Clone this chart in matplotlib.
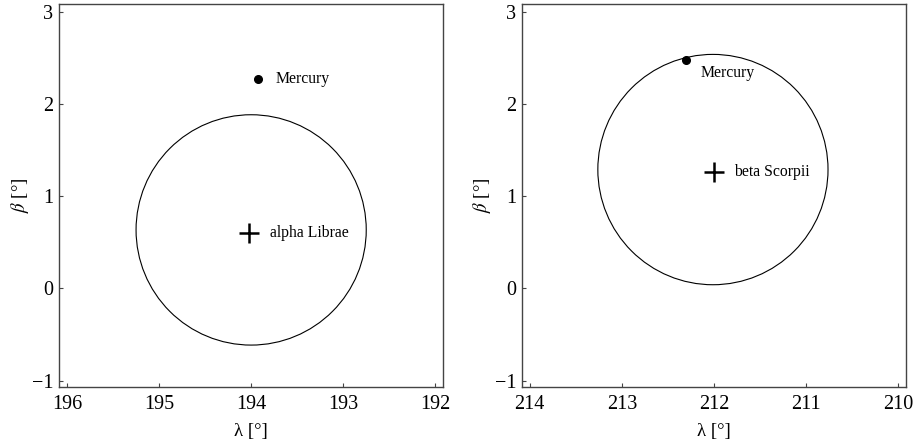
import numpy as np
import matplotlib.pyplot as plt
from matplotlib.patches import Circle

## data
star_names = ['alpha Librae', 'beta Scorpii']
star_lon = [194.02, 212.0]
star_lat = [0.605, 1.26]
circle_lon = [194.0, 212.01]
circle_lat = [0.635, 1.29]
circle_radius = [1.25, 1.25]
mercury_lon = [193.93, 212.30]
mercury_lat = [2.27, 2.48]
xticks = [[196, 195, 194, 193, 192], [214, 213, 212, 211, 210]]
yticks = [-1, 0, 1, 2, 3]

plt.rcParams['font.family'] = ['Liberation Serif', 'DejaVu Serif']
plt.rcParams['mathtext.fontset'] = 'stix'

fig = plt.figure(figsize=(9.15, 4.44), dpi=100)
W, H = 915., 444.
lefts = [59.0, 521.7]
ax_w = 384.3
bottom = 57.0
ax_h = 383.0

for i in range(2):
    ax = fig.add_axes([lefts[i] / W, bottom / H, ax_w / W, ax_h / H])
    # circle
    ax.add_patch(Circle((circle_lon[i], circle_lat[i]), circle_radius[i],
                        fill=False, edgecolor='black', lw=0.8))
    # star
    ax.plot(star_lon[i], star_lat[i], marker='+', color='black', ms=15, mew=1.8)
    ax.text(star_lon[i] - 0.22, star_lat[i], star_names[i], fontsize=11.3,
            va='center', ha='left')
    # mercury
    ax.plot(mercury_lon[i], mercury_lat[i], 'o', color='black', ms=5.5)
    if i == 0:
        ax.text(mercury_lon[i] - 0.2, mercury_lat[i], 'Mercury', fontsize=11.3,
                va='center', ha='left')
    else:
        ax.text(mercury_lon[i] - 0.16, mercury_lat[i] - 0.14, 'Mercury',
                fontsize=11.3, va='center', ha='left')

    c = xticks[i][2]
    ax.set_xlim(c + 2.087, c - 2.087)
    ax.set_ylim(-1.07, 3.087)
    ax.set_xticks(xticks[i])
    ax.set_yticks(yticks)
    ax.set_yticklabels(['\u22121', '0', '1', '2', '3'])
    ax.tick_params(direction='in', length=3, width=0.8, color='#444444',
                   labelsize=14.5, top=False, right=False, pad=4)
    ax.tick_params(axis='x', pad=6)
    for s in ax.spines.values():
        s.set_color('#444444')
        s.set_linewidth(1.0)
    ax.set_xlabel('\u03bb [\u00b0]', fontsize=13.5, labelpad=6)
    ax.set_ylabel('$\\beta$ [\u00b0]', fontsize=13.5, labelpad=1)

fig.savefig('out.png', dpi=100, facecolor='white')
